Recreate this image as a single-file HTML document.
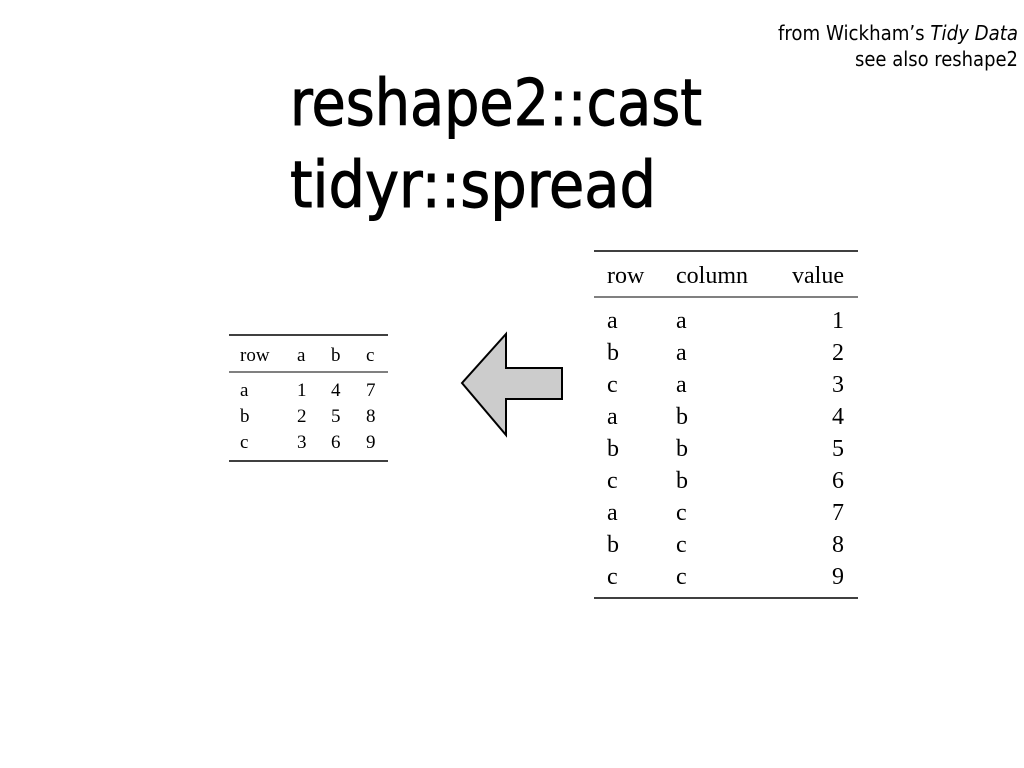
<!DOCTYPE html>
<html><head><meta charset="utf-8"><style>
html,body{margin:0;padding:0;background:#fff;width:1024px;height:768px;overflow:hidden}
svg{display:block}
.g{font-family:"DejaVu Sans Condensed","Liberation Sans",sans-serif}
.s{font-family:"Liberation Serif",serif}
</style></head><body>
<svg width="1024" height="768" viewBox="0 0 1024 768">
<text class="g" x="1018" y="40" font-size="20" text-anchor="end" textLength="240" lengthAdjust="spacingAndGlyphs">from Wickham’s <tspan font-style="italic">Tidy Data</tspan></text>
<text class="g" x="1018" y="66" font-size="20" text-anchor="end" textLength="163" lengthAdjust="spacingAndGlyphs">see also reshape2</text>
<g stroke="#000" stroke-width="0.9">
<text class="g" x="290" y="125" font-size="64" textLength="412" lengthAdjust="spacingAndGlyphs">reshape2::cast</text>
<text class="g" x="290" y="207" font-size="64" textLength="366" lengthAdjust="spacingAndGlyphs">tidyr::spread</text>
</g>

<g stroke="#000" stroke-width="1.5">
<line x1="229" y1="335" x2="388" y2="335"/>
<line x1="229" y1="372" x2="388" y2="372" stroke-width="1"/>
<line x1="229" y1="461" x2="388" y2="461"/>
<line x1="594" y1="251" x2="858" y2="251"/>
<line x1="594" y1="297" x2="858" y2="297" stroke-width="1"/>
<line x1="594" y1="598" x2="858" y2="598"/>
</g>
<g class="s" font-size="19">
<text x="240" y="361">row</text><text x="297" y="361">a</text><text x="331" y="361">b</text><text x="366" y="361">c</text>
<text x="240" y="396">a</text><text x="297" y="396">1</text><text x="331" y="396">4</text><text x="366" y="396">7</text>
<text x="240" y="422">b</text><text x="297" y="422">2</text><text x="331" y="422">5</text><text x="366" y="422">8</text>
<text x="240" y="448">c</text><text x="297" y="448">3</text><text x="331" y="448">6</text><text x="366" y="448">9</text>
</g>
<g class="s" font-size="24">
<text x="607" y="283">row</text><text x="676" y="283">column</text><text x="844" y="283" text-anchor="end">value</text>
<text x="607" y="328">a</text><text x="676" y="328">a</text><text x="844" y="328" text-anchor="end">1</text>
<text x="607" y="360">b</text><text x="676" y="360">a</text><text x="844" y="360" text-anchor="end">2</text>
<text x="607" y="392">c</text><text x="676" y="392">a</text><text x="844" y="392" text-anchor="end">3</text>
<text x="607" y="424">a</text><text x="676" y="424">b</text><text x="844" y="424" text-anchor="end">4</text>
<text x="607" y="456">b</text><text x="676" y="456">b</text><text x="844" y="456" text-anchor="end">5</text>
<text x="607" y="488">c</text><text x="676" y="488">b</text><text x="844" y="488" text-anchor="end">6</text>
<text x="607" y="520">a</text><text x="676" y="520">c</text><text x="844" y="520" text-anchor="end">7</text>
<text x="607" y="552">b</text><text x="676" y="552">c</text><text x="844" y="552" text-anchor="end">8</text>
<text x="607" y="584">c</text><text x="676" y="584">c</text><text x="844" y="584" text-anchor="end">9</text>
</g>
<polygon points="462,383 506,334 506,368 562,368 562,399 506,399 506,435" fill="#cccccc" stroke="#000" stroke-width="2" stroke-linejoin="miter"/>
</svg>
</body></html>
